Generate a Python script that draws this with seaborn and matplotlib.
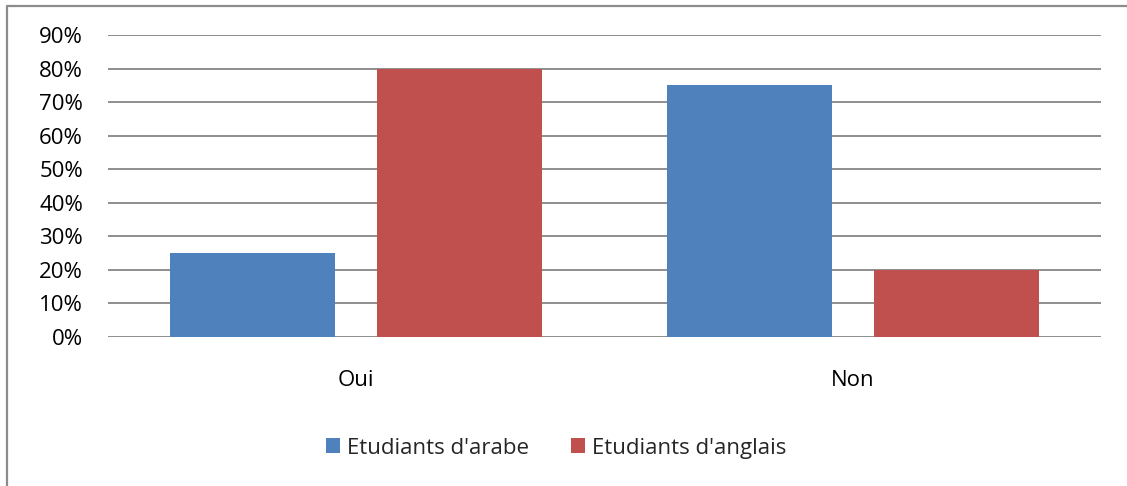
import pandas as pd
import matplotlib
matplotlib.use('Agg')
import matplotlib.pyplot as plt
import seaborn as sns
import numpy as np
from matplotlib.lines import Line2D
from matplotlib.ticker import PercentFormatter

# données du graphique
categories = ['Oui', 'Non']
series = ["Etudiants d'arabe", "Etudiants d'anglais"]
arabe = [0.25, 0.75]
anglais = [0.80, 0.20]
yticks = [0, 0.1, 0.2, 0.3, 0.4, 0.5, 0.6, 0.7, 0.8, 0.9]
colors = ['#4F81BD', '#C0504D']

df = pd.DataFrame({
    'Reponse': categories * 2,
    'Groupe': [series[0]] * 2 + [series[1]] * 2,
    'Valeur': arabe + anglais,
})

sns.set_style('white')
plt.rcParams['font.family'] = ['Open Sans', 'DejaVu Sans']

fig = plt.figure(figsize=(11.27, 4.86), dpi=100)
ax = fig.add_axes([108 / 1127, 1 - 337 / 486, (1101 - 108) / 1127, (337 - 35) / 486])

sns.barplot(data=df, x='Reponse', y='Valeur', hue='Groupe', order=categories,
            hue_order=series, palette=colors, width=0.834, gap=0.204,
            saturation=1, linewidth=0, ax=ax, zorder=3)

ax.set_xlim(-0.5, 1.5)
ax.set_ylim(0, 0.9)
ax.set_yticks(yticks)
ax.yaxis.set_major_formatter(PercentFormatter(1.0, decimals=0))
ax.set_xlabel('')
ax.set_ylabel('')
ax.grid(axis='y', color='#868686', linewidth=1.3, zorder=0)
ax.set_axisbelow(True)
for s in ax.spines.values():
    s.set_visible(False)
ax.tick_params(axis='y', length=0, pad=18, labelsize=16, colors='black')
ax.tick_params(axis='x', length=0, pad=24, labelsize=16, colors='black')

# légende en bas
handles, labels = ax.get_legend_handles_labels()
ax.legend_.remove()
fig.legend(handles, labels, loc='center', bbox_to_anchor=(556 / 1127, 1 - 448 / 486),
           ncol=2, frameon=False, fontsize=16, handlelength=0.65, handleheight=0.65,
           handletextpad=0.3, columnspacing=1.9)

# bordure du graphique (gauche et haut)
fig.add_artist(Line2D([7 / 1127, 7 / 1127], [0, 1 - 6 / 486], color='#8C8C8C', lw=1.6,
                      transform=fig.transFigure))
fig.add_artist(Line2D([7 / 1127, 1], [1 - 6 / 486, 1 - 6 / 486], color='#8C8C8C', lw=1.6,
                      transform=fig.transFigure))

fig.savefig('out.png', dpi=100)
